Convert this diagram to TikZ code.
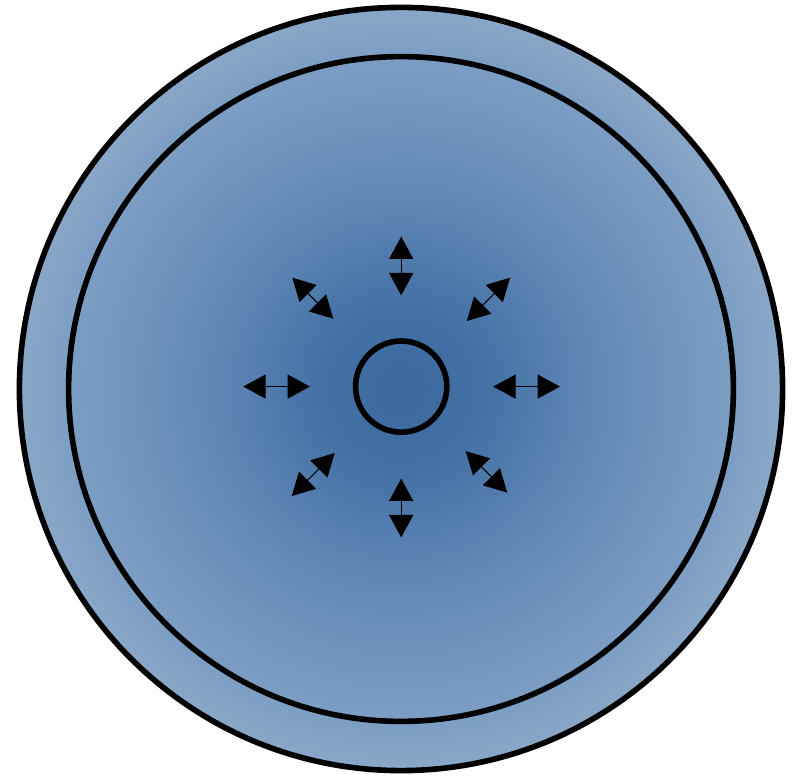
\documentclass[tikz,border=0pt]{standalone}
\usetikzlibrary{arrows.meta, calc}

\definecolor{coreblue}{RGB}{58,104,158}
\definecolor{midblue}{RGB}{70,114,166}
\definecolor{ringblue}{RGB}{96,136,182}
\definecolor{rimblue}{RGB}{123,157,195}
\definecolor{edgeblue}{RGB}{137,167,200}

\pgfdeclareradialshading{bubble}{\pgfpoint{0bp}{0bp}}{%
  color(0bp)=(coreblue); color(6bp)=(midblue); color(12.5bp)=(ringblue);
  color(21.5bp)=(rimblue); color(25bp)=(edgeblue); color(50bp)=(edgeblue)}

\begin{document}
\begin{tikzpicture}[
  shell/.style={draw=black, line width=4pt},
  push/.style={{Triangle[length=0.56cm, width=0.6cm]}-{Triangle[length=0.56cm, width=0.6cm]},
               line width=0.8pt, black}
]

\useasboundingbox (0,0) rectangle (20.05,19.425);

\coordinate (centre) at (10.025,9.7);
\coordinate (core)   at (10.03,9.76);

% outer shell with the shading, inner wall and core
\shade[shading=bubble] (centre) circle (9.54);
\draw[shell] (centre) circle (9.54);
\draw[shell] (centre) circle (8.31);
\draw[shell] (core) circle (1.14);

% pressure arrows round the core
\foreach \ang/\rin/\rout in {0/2.3/3.97, 45/2.32/3.85, 90/2.28/3.75, 135/2.4/3.85,
                             180/2.28/3.95, 225/2.35/3.87, 270/2.3/3.77, 315/2.28/3.75}{
  \coordinate (in\ang)  at ($(core)+(\ang:\rin)$);
  \coordinate (out\ang) at ($(core)+(\ang:\rout)$);
  \draw[push] (in\ang) -- (out\ang);
}

\end{tikzpicture}
\end{document}
